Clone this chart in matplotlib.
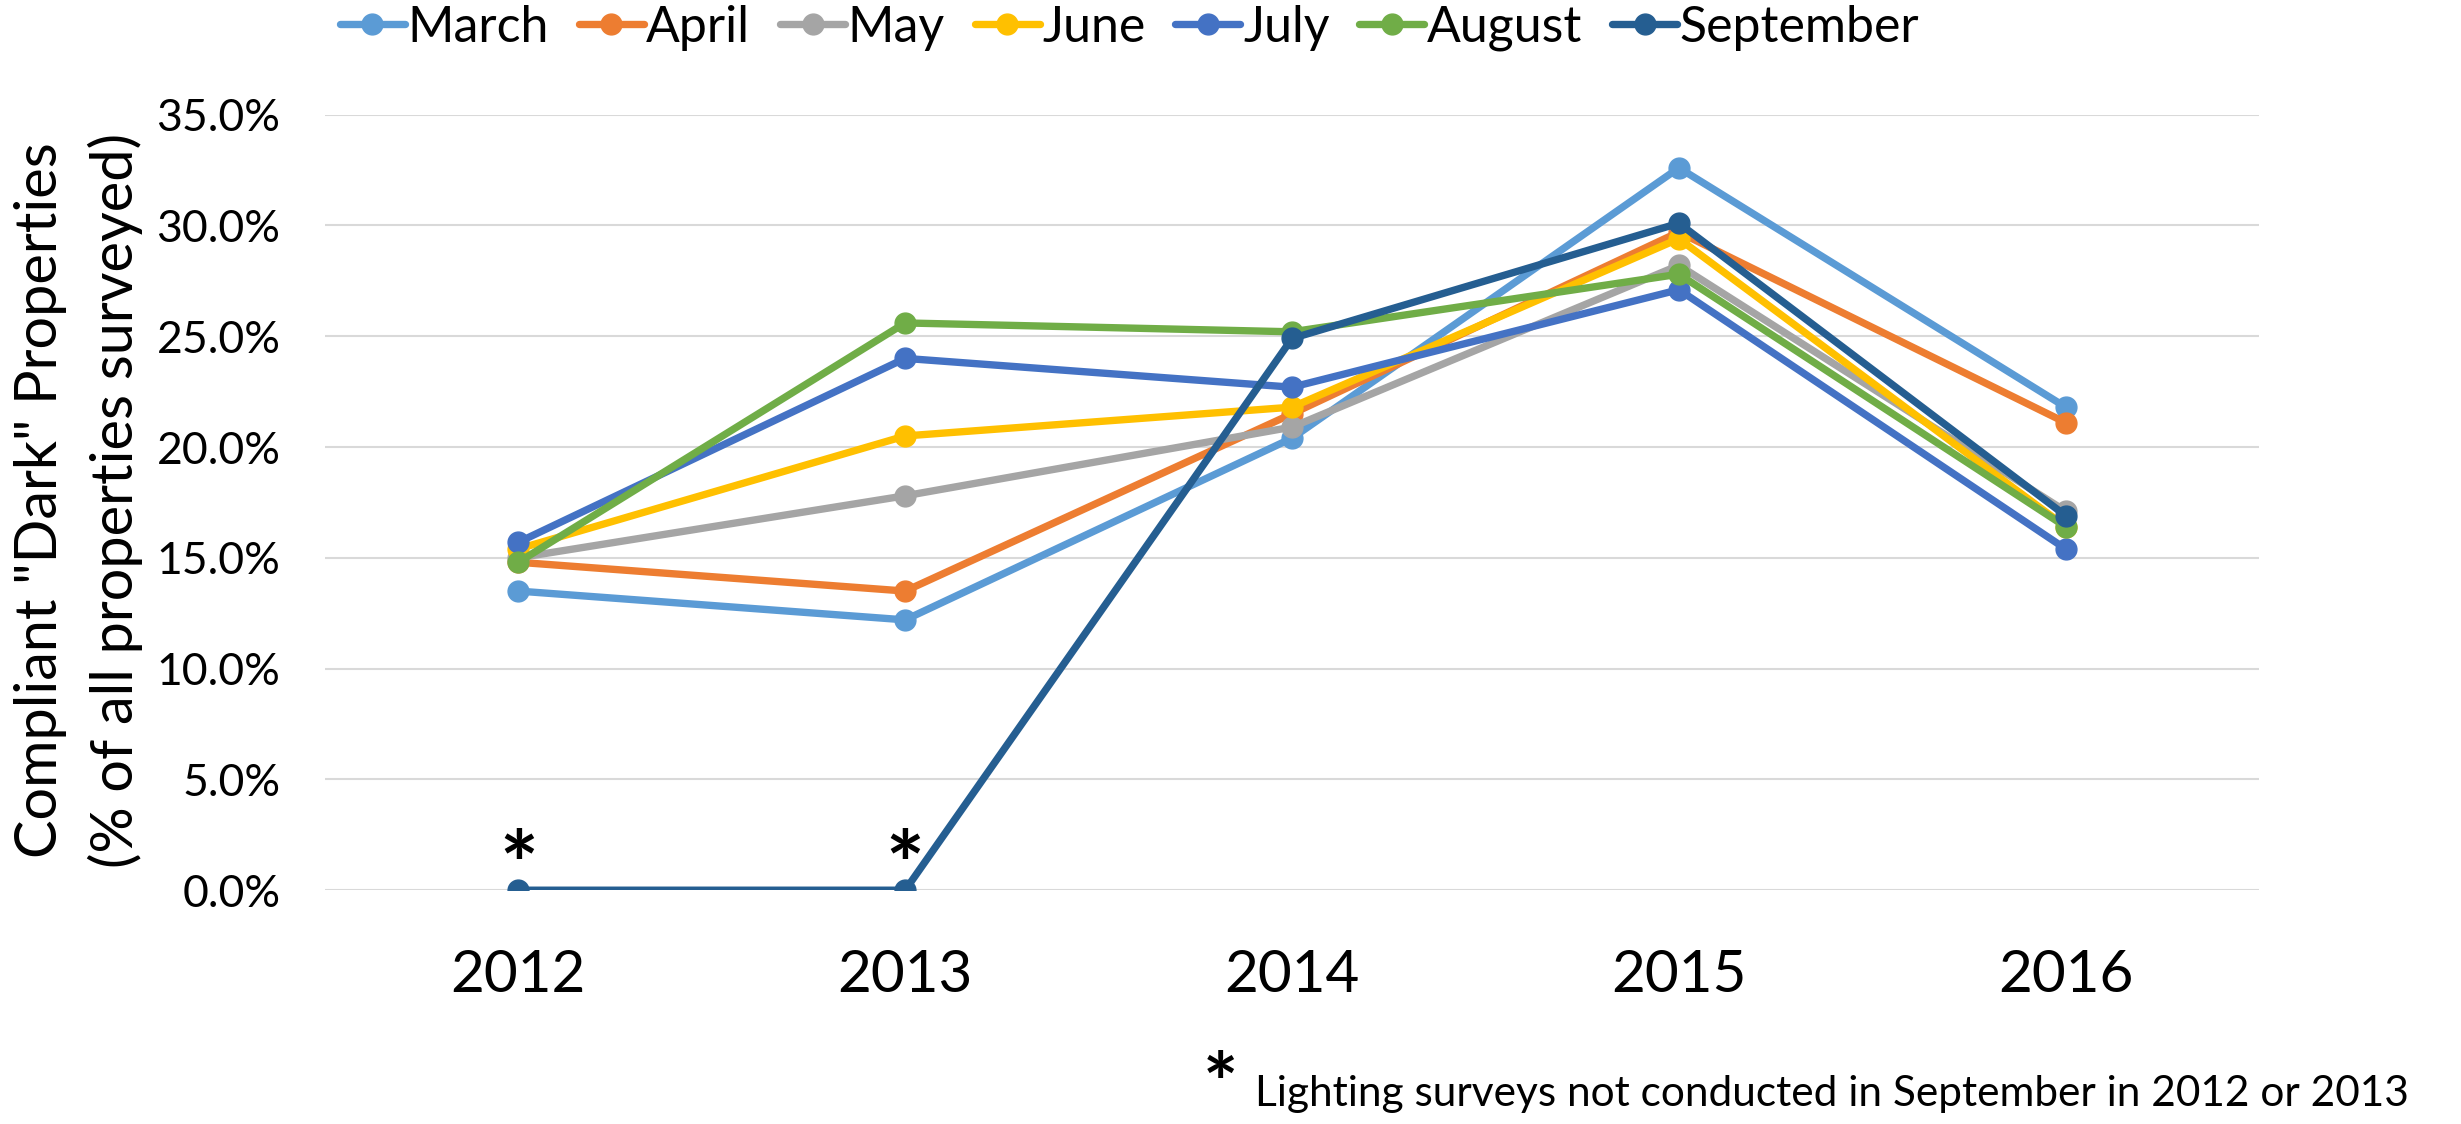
import matplotlib.pyplot as plt
from matplotlib.ticker import MultipleLocator, PercentFormatter

plt.rcParams["font.family"] = ["Lato", "DejaVu Sans"]

years = ["2012", "2013", "2014", "2015", "2016"]
months = ["March", "April", "May", "June", "July", "August", "September"]
colors = ["#5B9BD5", "#ED7D31", "#A5A5A5", "#FFC000", "#4472C4", "#70AD47", "#255E91"]

# percent of properties surveyed
march = [13.5, 12.2, 20.4, 32.6, 21.8]
april = [14.8, 13.5, 21.5, 29.7, 21.1]
may = [15.0, 17.8, 20.9, 28.2, 17.1]
june = [15.4, 20.5, 21.8, 29.4, 16.4]
july = [15.7, 24.0, 22.7, 27.1, 15.4]
august = [14.8, 25.6, 25.2, 27.8, 16.4]
september = [0.0, 0.0, 24.9, 30.1, 16.9]
series = [march, april, may, june, july, august, september]

# years with no September survey (marked with *)
missing_years = ["2012", "2013"]
footnote = "Lighting surveys not conducted in September in 2012 or 2013"

fig = plt.figure(figsize=(24.61, 11.24), dpi=100)
ax = fig.add_axes([0.132, 0.208, 0.786, 0.690])

for name, vals, c in zip(months, series, colors):
    ax.plot(years, vals, color=c, linewidth=5.3, marker="o", markersize=15,
            label=name, solid_capstyle="round", zorder=3)

ax.set_xlim(-0.5, len(years) - 0.5)
ax.set_ylim(0, 35)
ax.yaxis.set_major_locator(MultipleLocator(5))
ax.yaxis.set_major_formatter(PercentFormatter(decimals=1))
ax.grid(axis="y", color="#D9D9D9", linewidth=1.5, zorder=0)
ax.set_axisbelow(True)
for s in ax.spines.values():
    s.set_visible(False)
ax.tick_params(axis="y", length=0, pad=32, labelsize=32)
ax.tick_params(axis="x", length=0, pad=42, labelsize=42)

for y in missing_years:
    ax.text(y, 0.8, "*", ha="center", va="center", fontsize=66,
            fontweight="bold", color="black")

fig.text(0.032, 0.555, 'Compliant "Dark" Properties\n(% of all properties surveyed)',
         rotation=90, ha="center", va="center", fontsize=41.5, linespacing=1.45)

fig.legend(loc="center", bbox_to_anchor=(0.459, 0.975), ncol=7, frameon=False,
           fontsize=36, handlelength=1.3, handletextpad=0.05, columnspacing=0.6)

fig.text(0.496, 0.031, "*", ha="center", va="center", fontsize=60, fontweight="bold")
fig.text(0.510, 0.027, footnote, ha="left", va="center", fontsize=30.5)

fig.savefig("out.png", dpi=100)
